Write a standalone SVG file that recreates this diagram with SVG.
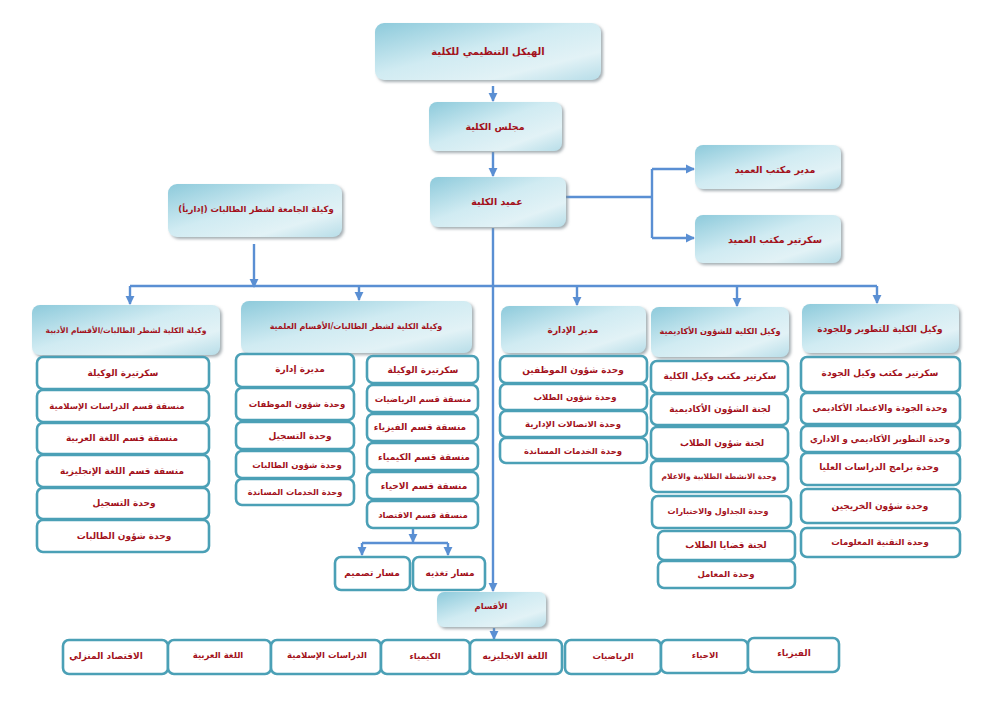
<svg xmlns="http://www.w3.org/2000/svg" width="1000" height="707" viewBox="0 0 1000 707">
<defs>
<linearGradient id="hg" x1="0" y1="0" x2="1" y2="1">
<stop offset="0" stop-color="#8dcadb"/>
<stop offset="0.45" stop-color="#d0ebf2"/>
<stop offset="0.75" stop-color="#e2f2f6"/>
<stop offset="1" stop-color="#b7dde8"/>
</linearGradient>
<filter id="sh" x="-10%" y="-10%" width="130%" height="140%">
<feDropShadow dx="2" dy="2" stdDeviation="1.5" flood-color="#7f8c93" flood-opacity="0.7"/>
</filter>
<marker id="ar" viewBox="0 0 10 10" refX="9" refY="5" markerWidth="3.8" markerHeight="3.8" orient="auto" markerUnits="strokeWidth">
<path d="M0,0 L10,5 L0,10 z" fill="#5a8fd3"/>
</marker>
<style>
.h{fill:url(#hg);filter:url(#sh)}
.s{fill:#fff;stroke:#4ba0b6;stroke-width:2.6}
.c{fill:none;stroke:#5a8fd3;stroke-width:2.4}
.a{marker-end:url(#ar)}
text{font-family:"DejaVu Sans","Noto Sans",sans-serif;font-weight:bold;fill:#a3121c;text-anchor:middle;dominant-baseline:central}
.t{font-size:9.5px}
.m{font-size:9px}
.k{font-size:9px}
</style>
</defs>

<g id="connectors">
<line class="c a" x1="493" y1="86" x2="493" y2="101"/>
<line class="c a" x1="493" y1="152" x2="493" y2="176"/>
<polyline class="c" points="566,197 652,197"/>
<line class="c" x1="652" y1="169" x2="652" y2="238"/>
<line class="c a" x1="652" y1="169" x2="694" y2="169"/>
<line class="c a" x1="652" y1="238" x2="694" y2="238"/>
<line class="c a" x1="493" y1="228" x2="493" y2="591"/>
<line class="c a" x1="254" y1="244" x2="254" y2="287"/>
<line class="c" x1="130" y1="286" x2="877" y2="286"/>
<line class="c a" x1="130" y1="286" x2="130" y2="304"/>
<line class="c a" x1="359" y1="286" x2="359" y2="300"/>
<line class="c a" x1="577" y1="286" x2="577" y2="305"/>
<line class="c a" x1="737" y1="286" x2="737" y2="306"/>
<line class="c a" x1="877" y1="286" x2="877" y2="303"/>
<line class="c a" x1="413" y1="529" x2="413" y2="542"/>
<line class="c" x1="362" y1="543" x2="448" y2="543"/>
<line class="c a" x1="362" y1="543" x2="362" y2="555"/>
<line class="c a" x1="448" y1="543" x2="448" y2="555"/>
<line class="c a" x1="494" y1="628" x2="494" y2="639"/>
</g>

<g id="n-top"><rect class="h" x="375" y="23" width="226" height="57" rx="9"/><text x="488" y="51" style="font-size:10px">الهيكل التنظيمي للكلية</text></g>
<g id="n-council"><rect class="h" x="429" y="102" width="133" height="49" rx="8"/><text x="495" y="126" class="t">مجلس الكلية</text></g>
<g id="n-dean"><rect class="h" x="430" y="177" width="136" height="50" rx="8"/><text x="497" y="201" class="t">عميد الكلية</text></g>
<g id="n-deanmgr"><rect class="h" x="695" y="145" width="146" height="44" rx="8"/><text x="775" y="169" class="t">مدير مكتب العميد</text></g>
<g id="n-deansec"><rect class="h" x="695" y="215" width="146" height="48" rx="8"/><text x="775" y="239" class="t">سكرتير مكتب العميد</text></g>
<g id="n-univ"><rect class="h" x="168" y="184" width="174" height="53" rx="9"/><text x="256" y="209" style="font-size:8.5px">وكيلة الجامعة لشطر الطالبات (إداريأ)</text></g>

<g id="n-lit"><rect class="h" x="32" y="305" width="188" height="50" rx="8"/><text x="126" y="330" style="font-size:7.6px">وكيلة الكلية لشطر الطالبات/الأقسام الأدبية</text></g>
<g id="n-sci"><rect class="h" x="241" y="301" width="231" height="52" rx="8"/><text x="356" y="326" style="font-size:8px">وكيلة الكلية لشطر الطالبات/الأقسام العلمية</text></g>
<g id="n-admin"><rect class="h" x="501" y="306" width="145" height="47" rx="8"/><text x="573" y="330" class="k">مدير الإدارة</text></g>
<g id="n-acad"><rect class="h" x="651" y="307" width="138" height="50" rx="8"/><text x="720" y="331" style="font-size:8.2px">وكيل الكلية للشؤون الأكاديمية</text></g>
<g id="n-qual"><rect class="h" x="802" y="304" width="157" height="49" rx="8"/><text x="880" y="329" class="m">وكيل الكلية للتطوير وللجودة</text></g>

<g id="n-lit-items">
<rect class="s" x="37" y="357" width="172" height="32" rx="6"/><text x="123" y="373" class="k">سكرتيرة الوكيلة</text>
<rect class="s" x="37" y="390" width="172" height="32" rx="6"/><text x="117" y="406" style="font-size:8.5px">منسقة قسم الدراسات الإسلامية</text>
<rect class="s" x="37" y="423" width="172" height="31" rx="6"/><text x="122" y="438" class="k">منسقة قسم اللغة العربية</text>
<rect class="s" x="37" y="455" width="172" height="32" rx="6"/><text x="122" y="471" class="k">منسقة قسم اللغة الإنجليزية</text>
<rect class="s" x="37" y="488" width="172" height="31" rx="6"/><text x="124" y="503" class="k">وحدة التسجيل</text>
<rect class="s" x="37" y="520" width="172" height="32" rx="6"/><text x="124" y="536" class="k">وحدة شؤون الطالبات</text>
</g>

<g id="n-sci-admin-items">
<rect class="s" x="236" y="354" width="118" height="33" rx="6"/><text x="300" y="369" class="k">مديرة إدارة</text>
<rect class="s" x="236" y="388" width="118" height="32" rx="6"/><text x="297" y="404" style="font-size:8.5px">وحدة شؤون الموظفات</text>
<rect class="s" x="236" y="422" width="118" height="27" rx="6"/><text x="300" y="436" class="k">وحدة التسجيل</text>
<rect class="s" x="236" y="451" width="118" height="27" rx="6"/><text x="297" y="465" style="font-size:8.5px">وحدة شؤون الطالبات</text>
<rect class="s" x="236" y="479" width="118" height="26" rx="6"/><text x="295" y="492" style="font-size:8.2px">وحدة الخدمات المساندة</text>
</g>

<g id="n-sci-items">
<rect class="s" x="367" y="356" width="111" height="27" rx="6"/><text x="423" y="370" class="k">سكرتيرة الوكيلة</text>
<rect class="s" x="367" y="385" width="111" height="27" rx="6"/><text x="423" y="399" style="font-size:8.5px">منسقة قسم الرياضيات</text>
<rect class="s" x="367" y="414" width="111" height="27" rx="6"/><text x="420" y="427" class="k">منسقة قسم الفيزياء</text>
<rect class="s" x="367" y="443" width="111" height="27" rx="6"/><text x="424" y="457" class="k">منسقة قسم الكيمياء</text>
<rect class="s" x="367" y="472" width="111" height="27" rx="6"/><text x="424" y="486" class="k">منسقة قسم الاحياء</text>
<rect class="s" x="367" y="501" width="111" height="27" rx="6"/><text x="423" y="515" style="font-size:8.5px">منسقة قسم الاقتصاد</text>
</g>
<g id="n-design"><rect class="s" x="335" y="557" width="75" height="33" rx="6"/><text x="372" y="573" class="k">مسار تصميم</text></g>
<g id="n-nutr"><rect class="s" x="413" y="557" width="72" height="33" rx="6"/><text x="450" y="573" class="k">مسار تغذيه</text></g>

<g id="n-admin-items">
<rect class="s" x="500" y="356" width="147" height="27" rx="6"/><text x="573" y="370" class="k">وحدة شؤون الموظفين</text>
<rect class="s" x="500" y="384" width="147" height="26" rx="6"/><text x="575" y="397" style="font-size:8.5px">وحدة شؤون الطلاب</text>
<rect class="s" x="500" y="411" width="147" height="26" rx="6"/><text x="573" y="424" style="font-size:8.5px">وحدة الاتصالات الإدارية</text>
<rect class="s" x="500" y="438" width="147" height="25" rx="6"/><text x="573" y="451" style="font-size:8.5px">وحدة الخدمات المساندة</text>
</g>

<g id="n-acad-items">
<rect class="s" x="651" y="361" width="137" height="32" rx="6"/><text x="720" y="376" class="k">سكرتير مكتب وكيل الكلية</text>
<rect class="s" x="651" y="394" width="137" height="31" rx="6"/><text x="720" y="409" class="k">لجنة الشؤون الأكاديمية</text>
<rect class="s" x="651" y="427" width="137" height="32" rx="6"/><text x="722" y="443" class="k">لجنة شؤون الطلاب</text>
<rect class="s" x="651" y="461" width="137" height="31" rx="6"/><text x="719" y="476" style="font-size:7.5px">وحدة الانشطة الطلابية والاعلام</text>
<rect class="s" x="652" y="496" width="139" height="32" rx="6"/><text x="718" y="511" style="font-size:8px">وحدة الجداول والاختبارات</text>
<rect class="s" x="658" y="531" width="137" height="29" rx="6"/><text x="726" y="545" class="k">لجنة قضايا الطلاب</text>
<rect class="s" x="658" y="561" width="137" height="27" rx="6"/><text x="726" y="574" style="font-size:8.5px">وحدة المعامل</text>
</g>

<g id="n-qual-items">
<rect class="s" x="801" y="357" width="159" height="35" rx="6"/><text x="880" y="373" class="k">سكرتير مكتب وكيل الجودة</text>
<rect class="s" x="801" y="393" width="159" height="31" rx="6"/><text x="880" y="408" style="font-size:8.6px">وحدة الجودة والاعتماد الأكاديمي</text>
<rect class="s" x="801" y="426" width="159" height="26" rx="6"/><text x="880" y="439" style="font-size:8.6px">وحدة التطوير الأكاديمي و الاداري</text>
<rect class="s" x="801" y="453" width="159" height="32" rx="6"/><text x="879" y="467" class="k">وحدة برامج الدراسات العليا</text>
<rect class="s" x="801" y="489" width="159" height="34" rx="6"/><text x="880" y="506" class="k">وحدة شؤون الخريجين</text>
<rect class="s" x="801" y="528" width="159" height="29" rx="6"/><text x="880" y="542" style="font-size:8.5px">وحدة التقنية المعلومات</text>
</g>

<g id="n-depts"><rect class="h" x="437" y="592" width="109" height="35" rx="7"/><text x="491" y="606" style="font-size:8.5px">الأقسام</text></g>

<g id="n-dept-row">
<rect class="s" x="63" y="640" width="105" height="34" rx="6"/><text x="106" y="656" class="k">الاقتصاد المنزلي</text>
<rect class="s" x="168" y="640" width="103" height="34" rx="6"/><text x="218" y="655" style="font-size:8.5px">اللغة العربية</text>
<rect class="s" x="271" y="640" width="110" height="34" rx="6"/><text x="327" y="655" style="font-size:8.5px">الدراسات الإسلامية</text>
<rect class="s" x="381" y="640" width="89" height="34" rx="6"/><text x="425" y="656" style="font-size:8.5px">الكيمياء</text>
<rect class="s" x="470" y="640" width="92" height="34" rx="6"/><text x="515" y="656" class="k">اللغة الانجليزيه</text>
<rect class="s" x="565" y="640" width="96" height="34" rx="6"/><text x="613" y="656" style="font-size:8.5px">الرياضيات</text>
<rect class="s" x="661" y="640" width="87" height="33" rx="6"/><text x="705" y="655" style="font-size:8.5px">الاحياء</text>
<rect class="s" x="748" y="638" width="91" height="34" rx="6"/><text x="794" y="653" class="k">الفيزياء</text>
</g>
</svg>
